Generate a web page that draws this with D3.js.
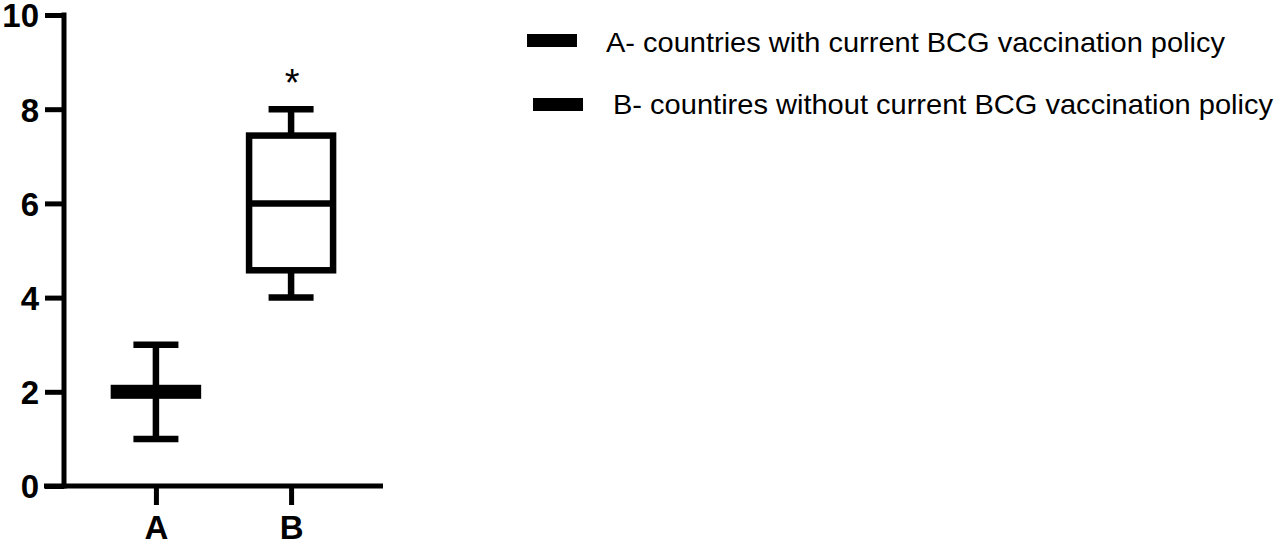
<!DOCTYPE html>
<html>
<head>
<meta charset="utf-8">
<script src="https://cdn.jsdelivr.net/npm/d3@7"></script>
<style>
  body { margin: 0; background: #fff; }
  svg { display: block; }
</style>
</head>
<body>
<svg width="1280" height="547"></svg>
<script>
// box plot values
var categories = ['A', 'B'];
var mins = [1, 4];
var q1s = [1.92, 4.58];
var medians = [2, 6];
var q3s = [2.08, 7.44];
var maxs = [3, 8];
var marks = ['', '*'];
var yTicks = [0, 2, 4, 6, 8, 10];
var legendLabels = ['A- countries with current BCG vaccination policy',
                    'B- countires without current BCG vaccination policy'];

var svg = d3.select('svg');
var font = '"Liberation Sans", Arial, sans-serif';

var y = d3.scaleLinear().domain([0, 10]).range([486, 15]);
var x = d3.scalePoint().domain(categories).range([64, 383]).padding(0.68);

var boxW = 84, capW = 45, sw = 6.5;

// y axis
var yAxis = svg.append('g')
  .attr('transform', 'translate(64,0)')
  .call(d3.axisLeft(y).tickValues(yTicks).tickSize(19).tickPadding(6));
yAxis.select('.domain').remove();
yAxis.selectAll('line').attr('stroke', '#000').attr('stroke-width', 5);
yAxis.selectAll('text')
  .attr('font-family', font).attr('font-weight', 'bold')
  .attr('font-size', 33).attr('fill', '#000')
  .attr('dy', '0.36em');
svg.append('line')
  .attr('x1', 64).attr('x2', 64)
  .attr('y1', y(10) - 2.5).attr('y2', y(0) + 2.5)
  .attr('stroke', '#000').attr('stroke-width', 5);

// x axis
var xAxis = svg.append('g')
  .attr('transform', 'translate(0,' + y(0) + ')')
  .call(d3.axisBottom(x).tickSize(19).tickPadding(11));
xAxis.select('.domain').remove();
xAxis.selectAll('line').attr('stroke', '#000').attr('stroke-width', 5);
xAxis.selectAll('text')
  .attr('font-family', font).attr('font-weight', 'bold')
  .attr('font-size', 33).attr('fill', '#000');
svg.append('line')
  .attr('x1', 44).attr('x2', 383)
  .attr('y1', y(0)).attr('y2', y(0))
  .attr('stroke', '#000').attr('stroke-width', 5);

// boxes
var idx = d3.range(categories.length);
var g = svg.append('g')
  .attr('stroke', '#000').attr('stroke-width', sw).attr('fill', 'none');

var box = g.selectAll('g.box').data(idx).enter().append('g').attr('class', 'box');

box.append('line')
  .attr('x1', function(i){ return x(categories[i]); })
  .attr('x2', function(i){ return x(categories[i]); })
  .attr('y1', function(i){ return y(maxs[i]); })
  .attr('y2', function(i){ return y(q3s[i]); });
box.append('line')
  .attr('x1', function(i){ return x(categories[i]); })
  .attr('x2', function(i){ return x(categories[i]); })
  .attr('y1', function(i){ return y(q1s[i]); })
  .attr('y2', function(i){ return y(mins[i]); });
box.append('line')
  .attr('x1', function(i){ return x(categories[i]) - capW / 2; })
  .attr('x2', function(i){ return x(categories[i]) + capW / 2; })
  .attr('y1', function(i){ return y(maxs[i]); })
  .attr('y2', function(i){ return y(maxs[i]); });
box.append('line')
  .attr('x1', function(i){ return x(categories[i]) - capW / 2; })
  .attr('x2', function(i){ return x(categories[i]) + capW / 2; })
  .attr('y1', function(i){ return y(mins[i]); })
  .attr('y2', function(i){ return y(mins[i]); });
box.append('rect')
  .attr('x', function(i){ return x(categories[i]) - boxW / 2; })
  .attr('width', boxW)
  .attr('y', function(i){ return y(q3s[i]); })
  .attr('height', function(i){ return y(q1s[i]) - y(q3s[i]); })
  .attr('fill', '#fff');
box.append('line')
  .attr('x1', function(i){ return x(categories[i]) - boxW / 2; })
  .attr('x2', function(i){ return x(categories[i]) + boxW / 2; })
  .attr('y1', function(i){ return y(medians[i]); })
  .attr('y2', function(i){ return y(medians[i]); });

// significance marks
svg.selectAll('text.mark').data(idx).enter().append('text')
  .attr('class', 'mark')
  .attr('x', function(i){ return x(categories[i]) + 1; })
  .attr('y', function(i){ return y(maxs[i]) - 13; })
  .attr('text-anchor', 'middle')
  .attr('font-family', font).attr('font-size', 38)
  .text(function(i){ return marks[i]; });

// legend
var legX = [527, 533], legY = [34, 98], txtX = [606, 613], txtY = [52, 114], txtW = [619, 660];
var leg = svg.selectAll('g.leg').data(legendLabels).enter().append('g').attr('class', 'leg');
leg.append('rect')
  .attr('x', function(d, i){ return legX[i]; })
  .attr('y', function(d, i){ return legY[i]; })
  .attr('width', 50).attr('height', 13).attr('fill', '#000');
leg.append('text')
  .attr('x', function(d, i){ return txtX[i]; })
  .attr('y', function(d, i){ return txtY[i]; })
  .attr('font-family', font).attr('font-size', 28)
  .attr('textLength', function(d, i){ return txtW[i]; })
  .attr('lengthAdjust', 'spacingAndGlyphs')
  .text(function(d){ return d; });
</script>
</body>
</html>
